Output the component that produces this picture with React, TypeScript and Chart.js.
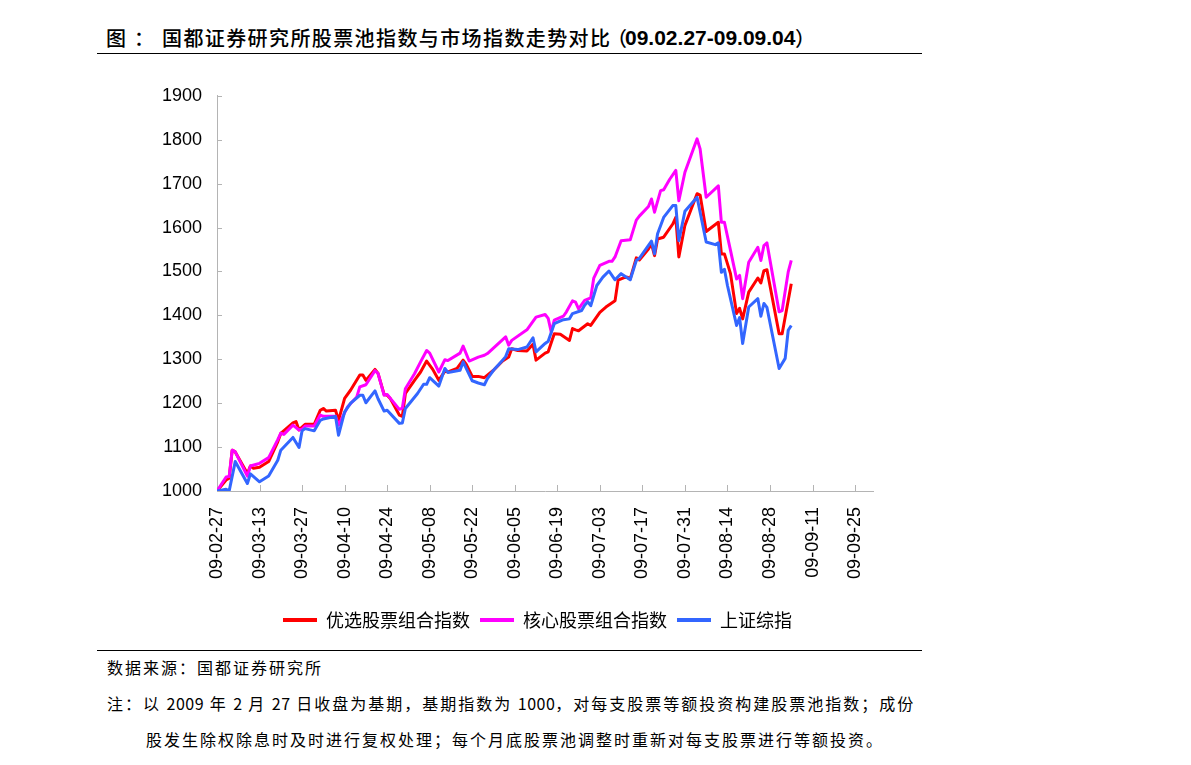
import React, { useEffect, useRef } from "react";
import { Chart, registerables } from "chart.js";

Chart.register(...registerables);

// ---- data (x = calendar days after 2009-02-27) ----
const seriesNames = ["优选股票组合指数", "核心股票组合指数", "上证综指"];

const redDays = [0, 3, 4, 5, 6, 10, 11, 12, 14, 17, 20, 21, 25, 26, 27, 29, 32, 34, 35, 36, 39, 40, 42, 44, 47, 48, 49, 52, 53, 55, 56, 57, 60, 61, 62, 65, 67, 69, 71, 73, 75, 76, 79, 81, 82, 84, 86, 88, 91, 94, 96, 97, 99, 102, 104, 105, 108, 109, 111, 113, 116, 117, 118, 119, 122, 123, 126, 128, 131, 132, 134, 135, 136, 138, 139, 142, 143, 144, 145, 147, 150, 151, 152, 154, 158, 159, 161, 165, 166, 167, 169, 171, 172, 173, 175, 178, 179, 180, 181, 185, 186, 189];
const redVals = [1000, 1025, 1029, 1093, 1089, 1040, 1057, 1052, 1054, 1067, 1112, 1131, 1155, 1158, 1139, 1152, 1152, 1184, 1188, 1182, 1184, 1161, 1211, 1230, 1264, 1264, 1252, 1277, 1268, 1220, 1218, 1211, 1173, 1170, 1222, 1252, 1271, 1296, 1277, 1252, 1273, 1271, 1279, 1298, 1289, 1261, 1261, 1258, 1275, 1296, 1305, 1324, 1320, 1319, 1334, 1298, 1314, 1317, 1358, 1357, 1343, 1370, 1367, 1365, 1381, 1377, 1407, 1419, 1433, 1480, 1486, 1487, 1483, 1531, 1526, 1551, 1563, 1536, 1574, 1578, 1608, 1623, 1533, 1605, 1677, 1674, 1591, 1612, 1540, 1540, 1495, 1404, 1416, 1392, 1453, 1485, 1474, 1502, 1504, 1358, 1358, 1472];

const magentaDays = [0, 3, 4, 5, 6, 10, 11, 13, 14, 17, 20, 21, 22, 25, 27, 28, 29, 32, 34, 35, 39, 40, 43, 46, 47, 49, 52, 53, 55, 56, 60, 61, 62, 65, 67, 69, 70, 73, 75, 76, 80, 81, 83, 86, 88, 89, 95, 96, 97, 102, 105, 108, 109, 110, 111, 114, 115, 117, 118, 119, 121, 123, 124, 126, 129, 130, 131, 133, 136, 138, 139, 142, 143, 144, 146, 147, 149, 151, 152, 154, 156, 158, 159, 161, 165, 166, 167, 169, 171, 172, 173, 175, 178, 179, 180, 181, 185, 186, 188, 189];
const magentaVals = [1000, 1032, 1033, 1093, 1089, 1034, 1057, 1061, 1063, 1076, 1117, 1132, 1129, 1150, 1139, 1141, 1148, 1148, 1173, 1170, 1170, 1150, 1192, 1214, 1237, 1242, 1274, 1268, 1218, 1220, 1186, 1189, 1233, 1267, 1294, 1320, 1314, 1271, 1299, 1297, 1314, 1330, 1296, 1305, 1309, 1313, 1351, 1332, 1343, 1367, 1396, 1402, 1393, 1362, 1389, 1398, 1408, 1433, 1430, 1415, 1434, 1440, 1485, 1514, 1523, 1523, 1533, 1570, 1572, 1617, 1626, 1648, 1665, 1635, 1684, 1686, 1710, 1730, 1661, 1726, 1764, 1802, 1779, 1669, 1695, 1612, 1612, 1548, 1483, 1491, 1438, 1521, 1555, 1525, 1559, 1565, 1408, 1411, 1499, 1525];

const blueDays = [0, 3, 4, 6, 10, 11, 14, 17, 20, 21, 25, 27, 28, 29, 32, 34, 35, 39, 40, 42, 44, 47, 48, 49, 52, 53, 55, 56, 60, 61, 62, 66, 68, 69, 70, 73, 75, 76, 80, 81, 84, 86, 88, 89, 91, 94, 95, 96, 99, 102, 104, 105, 108, 109, 111, 114, 116, 117, 120, 121, 122, 123, 125, 127, 129, 131, 133, 136, 138, 139, 143, 144, 145, 147, 150, 151, 152, 154, 158, 161, 164, 165, 166, 167, 168, 171, 172, 173, 175, 178, 179, 180, 181, 185, 187, 188, 189];
const blueVals = [1000, 1004, 1000, 1067, 1017, 1039, 1021, 1034, 1070, 1093, 1122, 1099, 1137, 1142, 1137, 1161, 1164, 1170, 1127, 1180, 1200, 1218, 1218, 1201, 1228, 1210, 1182, 1184, 1154, 1155, 1188, 1222, 1243, 1243, 1258, 1239, 1279, 1270, 1275, 1294, 1251, 1246, 1242, 1256, 1275, 1298, 1306, 1324, 1322, 1328, 1349, 1317, 1336, 1341, 1381, 1390, 1392, 1404, 1411, 1423, 1431, 1422, 1468, 1487, 1501, 1481, 1495, 1481, 1525, 1530, 1569, 1540, 1586, 1623, 1650, 1650, 1570, 1637, 1669, 1567, 1561, 1565, 1498, 1505, 1468, 1377, 1395, 1336, 1419, 1438, 1398, 1427, 1418, 1279, 1302, 1366, 1377];

const xTickLabels = ["09-02-27", "09-03-13", "09-03-27", "09-04-10", "09-04-24", "09-05-08", "09-05-22", "09-06-05", "09-06-19", "09-07-03", "09-07-17", "09-07-31", "09-08-14", "09-08-28", "09-09-11", "09-09-25"];
const xTickStepDays = 14;
const xMaxDays = 216;
const yMin = 1000;
const yMax = 1900;
const yStep = 100;

const colors = ["#ff0000", "#ff00ff", "#3366ff"];
const AXIS_COLOR = "#b4b4b4";

const toPoints = (days: number[], vals: number[]) => days.map((d, i) => ({ x: d, y: vals[i] }));

const innerTicks = {
  id: "innerTicks",
  beforeDatasetsDraw(chart: any) {
    const { ctx, chartArea, scales } = chart;
    const x = scales.x;
    const y = scales.y;
    ctx.save();
    ctx.strokeStyle = AXIS_COLOR;
    ctx.lineWidth = 1;
    ctx.beginPath();
    y.ticks.forEach((t: any) => {
      const py = Math.round(y.getPixelForValue(t.value)) + 0.5;
      ctx.moveTo(chartArea.left, py);
      ctx.lineTo(chartArea.left + 5, py);
    });
    x.ticks.forEach((t: any) => {
      const px = Math.round(x.getPixelForValue(t.value)) + 0.5;
      ctx.moveTo(px, chartArea.bottom);
      ctx.lineTo(px, chartArea.bottom - 6);
    });
    ctx.stroke();
    ctx.restore();
  },
};

function ChartCanvas() {
  const ref = useRef<HTMLCanvasElement | null>(null);
  useEffect(() => {
    if (!ref.current) return;
    const mk = (i: number, pts: any[], order: number) => ({
      label: seriesNames[i],
      data: pts,
      borderColor: colors[i],
      backgroundColor: colors[i],
      borderWidth: 3,
      pointRadius: 0,
      tension: 0,
      borderJoinStyle: "round" as const,
      order,
      yAxisID: "y",
    });
    const chart = new Chart(ref.current, {
      type: "line",
      data: {
        datasets: [
          mk(0, toPoints(redDays, redVals), 3),
          mk(1, toPoints(magentaDays, magentaVals), 2),
          mk(2, toPoints(blueDays, blueVals), 1),
        ],
      },
      options: {
        animation: false,
        responsive: false,
        devicePixelRatio: 1,
        layout: { padding: { left: 0, right: 0, top: 25, bottom: 0 } },
        plugins: {
          tooltip: { enabled: false },
          legend: {
            position: "bottom",
            labels: {
              boxWidth: 34,
              boxHeight: 4,
              padding: 10,
              color: "#000",
              font: { family: "'Noto Sans CJK SC', sans-serif", size: 18 },
              sort: (a: any, b: any) => a.datasetIndex - b.datasetIndex,
              generateLabels: (c: any) =>
                Chart.defaults.plugins.legend.labels
                  .generateLabels(c)
                  .map((it: any) => ({ ...it, lineWidth: 0, fillStyle: colors[it.datasetIndex] })),
            },
          },
        },
        scales: {
          x: {
            type: "linear",
            min: 0,
            max: xMaxDays,
            grid: { display: false, drawTicks: false },
            border: { display: true, color: AXIS_COLOR, width: 1 },
            afterBuildTicks: (scale: any) => {
              scale.ticks = xTickLabels.map((_, i) => ({ value: i * xTickStepDays }));
            },
            afterFit: (scale: any) => {
              scale.height = 110;
            },
            ticks: {
              autoSkip: false,
              minRotation: 90,
              maxRotation: 90,
              padding: 16,
              color: "#000",
              font: { family: "'Liberation Sans', Arial, sans-serif", size: 18 },
              callback: (v: any) => xTickLabels[Math.round(Number(v) / xTickStepDays)] ?? "",
            },
          },
          y: {
            min: yMin,
            max: yMax,
            grid: { display: false, drawTicks: false },
            border: { display: true, color: AXIS_COLOR, width: 1 },
            afterFit: (scale: any) => {
              scale.width = 117;
            },
            ticks: {
              stepSize: yStep,
              padding: 15,
              color: "#000",
              font: { family: "'Liberation Sans', Arial, sans-serif", size: 18 },
              callback: (v: any) => String(v),
            },
          },
          yRightSpace: {
            type: "linear",
            position: "right",
            min: 0,
            max: 1,
            grid: { display: false, drawTicks: false },
            border: { display: false },
            ticks: { display: false },
            afterFit: (scale: any) => {
              scale.width = 101.7;
            },
          },
        },
      },
      plugins: [innerTicks],
    });
    return () => chart.destroy();
  }, []);
  return (
    <canvas
      ref={ref}
      width={875}
      height={569}
      style={{ position: "absolute", left: 100, top: 70, width: 875, height: 569 }}
    />
  );
}

const cjk = "'Noto Sans CJK SC', sans-serif";

export default function App() {
  const abs = (l: number, t: number, extra: React.CSSProperties = {}): React.CSSProperties => ({
    position: "absolute",
    left: l,
    top: t,
    whiteSpace: "nowrap",
    ...extra,
  });
  const titleFont: React.CSSProperties = { fontFamily: cjk, fontSize: 20, lineHeight: "22px", color: "#000", fontWeight: 500 };
  const footFont: React.CSSProperties = { fontFamily: cjk, fontSize: 16, lineHeight: "18px", color: "#000", letterSpacing: "2px" };
  const num: React.CSSProperties = { letterSpacing: "0.5px" };
  return (
    <div style={{ position: "absolute", left: 0, top: 0, width: 1191, height: 765, background: "#fff", overflow: "hidden" }}>
      <span style={abs(106, 27, titleFont)}>图</span>
      <span style={abs(134, 27, titleFont)}>：</span>
      <span style={abs(162, 27, { ...titleFont, letterSpacing: "1.4px" })}>国都证券研究所股票池指数与市场指数走势对比</span>
      <span style={abs(607, 27, titleFont)}>（</span>
      <span style={abs(625, 27, { fontFamily: "'Liberation Sans', Arial, sans-serif", fontSize: 21, lineHeight: "22px", fontWeight: 700, color: "#000" })}>09.02.27-09.09.04</span>
      <span style={abs(795, 27, titleFont)}>）</span>
      <div style={{ position: "absolute", left: 97, top: 53, width: 825, height: 1, background: "#000" }} />

      <ChartCanvas />

      <div style={{ position: "absolute", left: 97, top: 650, width: 825, height: 1, background: "#000" }} />
      <div style={abs(107, 658, footFont)}>数据来源：国都证券研究所</div>
      <div style={abs(107, 694, footFont)}>
        注：以 <span style={num}>2009</span> 年 <span style={num}>2</span> 月 <span style={num}>27</span> 日收盘为基期，基期指数为 <span style={num}>1000</span>，对每支股票等额投资构建股票池指数；成份
      </div>
      <div style={abs(146, 730, footFont)}>
        股发生除权除息时及时进行复权处理；每个月底股票池调整时重新对每支股票进行等额投资。
      </div>
    </div>
  );
}
